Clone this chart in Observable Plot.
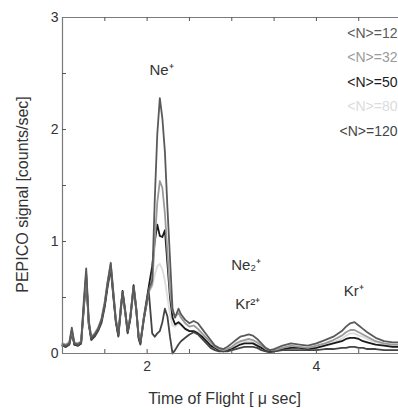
<!DOCTYPE html>
<html>
<head>
<meta charset="utf-8">
<script src="https://cdn.jsdelivr.net/npm/d3@7"></script>
<script src="https://cdn.jsdelivr.net/npm/@observablehq/plot@0.6"></script>
<style>
  html, body { margin: 0; padding: 0; background: #fff; }
  #chart svg { display: block; font-family: "Liberation Sans", Arial, Helvetica, sans-serif; }
</style>
</head>
<body>
<div id="chart"></div>
<script>
// ---- data ----
const seriesNames = ["<N>=12", "<N>=32", "<N>=50", "<N>=80", "<N>=120"];
const seriesColors = ["#5a5a5a", "#9a9a9a", "#1a1a1a", "#dcdcdc", "#444444"];

const tof = [1.00,1.04,1.08,1.11,1.14,1.18,1.22,1.25,1.28,1.31,1.34,1.38,1.42,1.46,1.50,1.53,1.57,1.60,1.63,1.66,
  1.69,1.71,1.74,1.77,1.80,1.84,1.87,1.90,1.92,1.96,2.02,2.06,2.09,2.12,2.15,2.18,2.21,2.24,2.27,2.30,
  2.33,2.37,2.40,2.45,2.50,2.55,2.60,2.65,2.70,2.75,2.80,2.85,2.90,2.95,3.00,3.05,3.10,3.15,3.20,3.25,
  3.30,3.35,3.40,3.45,3.50,3.60,3.70,3.80,3.90,4.00,4.10,4.20,4.30,4.35,4.40,4.45,4.50,4.55,4.60,4.70,
  4.80,4.90,4.97];

const sigN12 = [0.08,0.07,0.09,0.23,0.09,0.08,0.10,0.45,0.76,0.30,0.14,0.17,0.22,0.30,0.45,0.62,0.81,0.55,0.30,0.17,
  0.42,0.55,0.38,0.20,0.32,0.60,0.40,0.15,0.10,0.30,0.58,0.65,1.37,1.96,2.28,2.10,1.80,1.30,0.85,0.40,
  0.32,0.40,0.35,0.30,0.27,0.29,0.27,0.22,0.17,0.12,0.07,0.05,0.04,0.06,0.09,0.12,0.15,0.16,0.17,0.16,
  0.13,0.09,0.05,0.03,0.04,0.07,0.09,0.08,0.07,0.09,0.12,0.15,0.20,0.24,0.27,0.28,0.25,0.22,0.19,0.14,
  0.11,0.10,0.10];
const sigN32 = [0.09,0.08,0.10,0.21,0.10,0.09,0.11,0.42,0.72,0.28,0.15,0.18,0.23,0.31,0.47,0.63,0.80,0.56,0.31,0.19,
  0.43,0.54,0.37,0.21,0.33,0.59,0.41,0.16,0.11,0.31,0.55,0.62,1.00,1.35,1.54,1.48,1.25,0.90,0.55,0.38,
  0.33,0.36,0.32,0.27,0.24,0.25,0.22,0.18,0.14,0.10,0.06,0.04,0.03,0.04,0.06,0.09,0.11,0.12,0.13,0.12,
  0.10,0.07,0.04,0.03,0.03,0.05,0.07,0.06,0.05,0.07,0.09,0.12,0.16,0.19,0.21,0.21,0.19,0.17,0.15,0.11,
  0.09,0.08,0.08];
const sigN50 = [0.07,0.06,0.08,0.20,0.08,0.07,0.09,0.40,0.70,0.27,0.13,0.16,0.21,0.29,0.44,0.60,0.78,0.53,0.29,0.16,
  0.41,0.56,0.39,0.19,0.31,0.61,0.42,0.14,0.09,0.32,0.60,0.78,1.00,1.15,1.05,1.04,1.10,0.80,0.50,0.32,
  0.26,0.28,0.26,0.22,0.20,0.20,0.18,0.15,0.11,0.07,0.05,0.03,0.02,0.03,0.04,0.06,0.08,0.09,0.09,0.09,
  0.07,0.05,0.03,0.02,0.02,0.04,0.05,0.05,0.04,0.05,0.07,0.09,0.11,0.13,0.14,0.14,0.13,0.11,0.10,0.08,
  0.07,0.06,0.06];
const sigN80 = [0.08,0.07,0.09,0.19,0.09,0.08,0.10,0.38,0.66,0.26,0.14,0.17,0.21,0.28,0.42,0.58,0.74,0.52,0.29,0.18,
  0.40,0.52,0.36,0.20,0.31,0.56,0.39,0.15,0.10,0.29,0.55,0.60,0.70,0.78,0.80,0.75,0.65,0.50,0.35,0.25,
  0.24,0.27,0.25,0.22,0.20,0.20,0.19,0.16,0.12,0.09,0.06,0.04,0.03,0.04,0.05,0.08,0.10,0.11,0.11,0.10,
  0.09,0.06,0.04,0.03,0.03,0.05,0.06,0.06,0.05,0.06,0.08,0.10,0.13,0.16,0.18,0.18,0.16,0.15,0.13,0.10,
  0.08,0.07,0.07];
const sigN120 = [0.07,0.06,0.08,0.18,0.08,0.07,0.09,0.38,0.68,0.26,0.12,0.15,0.20,0.27,0.42,0.58,0.76,0.51,0.28,0.15,
  0.39,0.54,0.37,0.18,0.30,0.58,0.40,0.13,0.08,0.30,0.55,0.18,0.15,0.18,0.20,0.28,0.40,0.33,0.15,0.00,
  0.03,0.08,0.11,0.14,0.17,0.19,0.17,0.13,0.09,0.05,0.03,0.02,0.02,0.02,0.03,0.04,0.05,0.06,0.06,0.06,
  0.05,0.03,0.02,0.01,0.02,0.03,0.03,0.03,0.03,0.03,0.04,0.04,0.05,0.05,0.06,0.06,0.05,0.05,0.04,0.04,
  0.03,0.03,0.03];

const seriesValues = [sigN12, sigN32, sigN50, sigN80, sigN120];
const xTickLabels = [2, 4];
const yTickLabels = [0, 1, 2, 3];
const minorTicksX = [1.5, 2, 2.5, 3, 3.5, 4, 4.5];
const minorTicksY = [0.5, 1, 1.5, 2, 2.5];

const peakLabels = [
  {t: 2.17, s: 2.53, label: "Ne\u207A"},
  {t: 3.17, s: 0.79, label: "Ne\u2082\u207A"},
  {t: 3.19, s: 0.44, label: "Kr\u00B2\u207A"},
  {t: 4.44, s: 0.56, label: "Kr\u207A"}
];

// ---- build ----
const W = 398, H = 408;
const mL = 62, mR = 0, mT = 17, mB = 55;
const frameH = H - mT - mB;
const tickLen = 4;

const rows = [];
seriesNames.forEach((name, i) => {
  seriesValues[i].forEach((v, j) => rows.push({series: name, t: tof[j], s: v}));
});
// drawing order (last one on top)
const drawOrder = ["<N>=80", "<N>=50", "<N>=120", "<N>=32", "<N>=12"];

const marks = [];
drawOrder.forEach(name => {
  const i = seriesNames.indexOf(name);
  marks.push(Plot.line(rows.filter(r => r.series === name), {
    x: "t", y: "s", stroke: seriesColors[i], strokeWidth: 1.8, curve: "linear"
  }));
});

// box (left, top, bottom; right side lies beyond the visible crop)
marks.push(Plot.ruleY([0, 3], {stroke: "#7a7a7a", strokeWidth: 1.2}));
marks.push(Plot.ruleX([1], {stroke: "#7a7a7a", strokeWidth: 1.2}));
// inward ticks
marks.push(Plot.ruleX(minorTicksX, {x: d => d, insetTop: frameH - tickLen, stroke: "#555"}));
marks.push(Plot.ruleX(minorTicksX, {x: d => d, insetBottom: frameH - tickLen, stroke: "#555"}));
marks.push(Plot.ruleY(minorTicksY, {y: d => d, insetRight: (W - mL - mR) - tickLen, stroke: "#555"}));

// axes (labels only)
marks.push(Plot.axisX(xTickLabels, {tickSize: 0, tickPadding: 8, fontSize: 14, fill: "#333", label: null, tickFormat: d => String(d)}));
marks.push(Plot.axisY(yTickLabels, {tickSize: 0, tickPadding: 4, fontSize: 14, fill: "#333", label: null, tickFormat: d => String(d)}));

// axis titles
marks.push(Plot.text(["Time of Flight [ \u03BC sec]"], {
  frameAnchor: "bottom", text: d => d, dx: -6, dy: 45, fontSize: 16, fill: "#333",
  textAnchor: "middle", lineAnchor: "middle"
}));
marks.push(Plot.text(["PEPICO signal [counts/sec]"], {
  frameAnchor: "left", text: d => d, dx: -40, dy: 9, rotate: -90, fontSize: 16, fill: "#333",
  textAnchor: "middle", lineAnchor: "middle"
}));

// peak annotations
marks.push(Plot.text(peakLabels, {x: "t", y: "s", text: "label", fontSize: 15, fill: "#333", lineAnchor: "middle"}));

// legend
seriesNames.forEach((name, i) => {
  marks.push(Plot.text([name], {
    frameAnchor: "top-right", text: d => d, dx: -1, dy: 16 + i * 24.5,
    fontSize: 14, fill: seriesColors[i], textAnchor: "end", lineAnchor: "middle"
  }));
});

const chart = Plot.plot({
  width: W, height: H,
  marginLeft: mL, marginRight: mR, marginTop: mT, marginBottom: mB,
  x: {domain: [1, 4.97], axis: null},
  y: {domain: [0, 3], axis: null},
  style: {fontFamily: "'Liberation Sans', Arial, Helvetica, sans-serif", background: "#fff"},
  marks
});
document.getElementById("chart").appendChild(chart);
</script>
</body>
</html>
